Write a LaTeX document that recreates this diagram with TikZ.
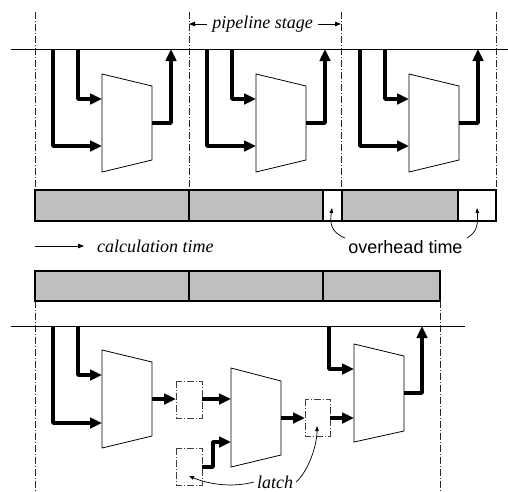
\documentclass[tikz,border=0pt]{standalone}
\usepackage{fontspec}
\setmainfont{Liberation Serif}
\setsansfont{Liberation Sans}
\usetikzlibrary{arrows.meta}
\tikzset{
  bus/.style={line width=1pt},
  sig/.style={line width=3.8pt, line join=round, -{Triangle[length=12pt,width=10.5pt]}},
  unit/.style={line width=0.8pt, fill=white},
  ddot/.style={line width=0.7pt, draw=black!85, dash pattern=on 7pt off 2pt on 1pt off 2pt},
  latchbox/.style={line width=0.9pt, draw=black!75, dash pattern=on 7pt off 2pt on 1pt off 2pt},
  bargray/.style={fill=black!25, draw=black, line width=1.3pt},
  barwhite/.style={fill=white, draw=black, line width=1.3pt},
  lbl/.style={font=\itshape\fontsize{18}{21}\selectfont, inner sep=1pt},
  slbl/.style={font=\sffamily\fontsize{18}{21}\selectfont, inner sep=1pt},
  thinarrow/.style={line width=0.8pt, -{Triangle[length=6pt,width=4.5pt]}},
  smallarrow/.style={line width=0.7pt, -{Triangle[length=5pt,width=3.5pt]}},
}
\begin{document}
\begin{tikzpicture}[x=1pt,y=-1pt]
\useasboundingbox (0,0) rectangle (508,491);
% ---------------- top part ----------------
\foreach \x in {35,189,341,496} {
  \coordinate (vt\x) at (\x,12);
  \coordinate (vb\x) at (\x,190);
  \draw[ddot] (vt\x) -- (vb\x);
}
\coordinate (busL) at (11,49);
\coordinate (busR) at (508,49);
\draw[bus] (busL) -- (busR);
\foreach \dx/\n in {0/1,154/2,307/3} {
  \begin{scope}[xshift=\dx]
    \coordinate (t\n a) at (102,74);
    \coordinate (t\n b) at (152,86);
    \coordinate (t\n c) at (152,160);
    \coordinate (t\n d) at (102,172);
    \draw[unit] (t\n a) -- (t\n b) -- (t\n c) -- (t\n d) -- cycle;
    \coordinate (tap\n a) at (53,49);
    \coordinate (tap\n b) at (78,49);
    \coordinate (in\n a) at (102,146);
    \coordinate (in\n b) at (102,99);
    \coordinate (out\n) at (152,123);
    \coordinate (ret\n) at (171,49);
    \draw[sig] (tap\n a) |- (in\n a);
    \draw[sig] (tap\n b) |- (in\n b);
    \draw[sig] (out\n) -| (ret\n);
  \end{scope}
}
\draw[bargray] (35,190) rectangle (189,221);
\draw[bargray] (189,190) rectangle (323,221);
\draw[barwhite] (323,190) rectangle (342,221);
\draw[bargray] (342,190) rectangle (458,221);
\draw[barwhite] (458,190) rectangle (496,221);
% pipeline stage label
\node[lbl] (ps) at (262.5,24) {pipeline stage};
\coordinate (psL) at (189,24);
\coordinate (psR) at (341,24);
\draw[thinarrow] ([xshift=-4pt]ps.west) -- (psL);
\draw[thinarrow] ([xshift=4pt]ps.east) -- (psR);
% calculation time
\coordinate (ctA) at (35,246);
\coordinate (ctB) at (84,246);
\draw[thinarrow] (ctA) -- (ctB);
\node[lbl, anchor=west] (ct) at (96,246) {calculation time};
% overhead time
\node[slbl] (oh) at (405.5,247) {overhead time};
\coordinate (oh1) at (332,208);
\coordinate (oh2) at (477,208);
\draw[smallarrow] (345,238) .. controls (330,232) and (330,222) .. (oh1);
\draw[smallarrow] (467,238) .. controls (478,232) and (478,222) .. (oh2);
% ---------------- bottom part ----------------
\draw[bargray] (35,271) rectangle (189,301);
\draw[bargray] (189,271) rectangle (323,301);
\draw[bargray] (323,271) rectangle (440,301);
\coordinate (bl1) at (35,301);
\coordinate (bl2) at (35,491);
\coordinate (br1) at (440,301);
\coordinate (br2) at (440,491);
\draw[ddot] (bl1) -- (bl2);
\draw[ddot] (br1) -- (br2);
\coordinate (bbusL) at (11,326);
\coordinate (bbusR) at (465,326);
\draw[bus] (bbusL) -- (bbusR);
\draw[unit] (102,350) coordinate (u1a) -- (152,362) coordinate (u1b) -- (152,436) coordinate (u1c) -- (102,448) coordinate (u1d) -- cycle;
\draw[unit] (231,368) coordinate (u2a) -- (281,381) coordinate (u2b) -- (281,455) coordinate (u2c) -- (231,467) coordinate (u2d) -- cycle;
\draw[unit] (354,344) coordinate (u3a) -- (404,356) coordinate (u3b) -- (404,431) coordinate (u3c) -- (354,442) coordinate (u3d) -- cycle;
\draw[latchbox] (176,381) rectangle (202,418);
\coordinate (l1in) at (176,399);
\coordinate (l1out) at (202,399);
\draw[latchbox] (176,448) rectangle (202,485);
\coordinate (l2out) at (202,467);
\draw[latchbox] (305,399) rectangle (330,436);
\coordinate (l3in) at (305,418);
\coordinate (l3out) at (330,418);
\coordinate (btap1) at (53,326);
\coordinate (btap2) at (78,326);
\draw[sig] (btap1) |- (102,423);
\draw[sig] (btap2) |- (102,375);
\draw[sig] (152,399) -- (l1in);
\draw[sig] (l1out) -- (231,399);
\draw[sig] (l2out) -- (213,467) -- (213,442) -- (231,442);
\draw[sig] (281,418) -- (l3in);
\draw[sig] (l3out) -- (354,418);
\coordinate (btap3) at (329,326);
\draw[sig] (btap3) |- (354,369);
\draw[sig] (404,393) -| (422,326);
% latch label
\node[lbl] (lt) at (275,482) {latch};
\coordinate (lt1) at (189,476);
\coordinate (lt2) at (317,426);
\draw[smallarrow] ([xshift=-2pt]lt.west) .. controls (232,488) and (208,484) .. (lt1);
\draw[smallarrow] ([xshift=2pt]lt.east) .. controls (309,470) and (317,445) .. (lt2);
\end{tikzpicture}
\end{document}
